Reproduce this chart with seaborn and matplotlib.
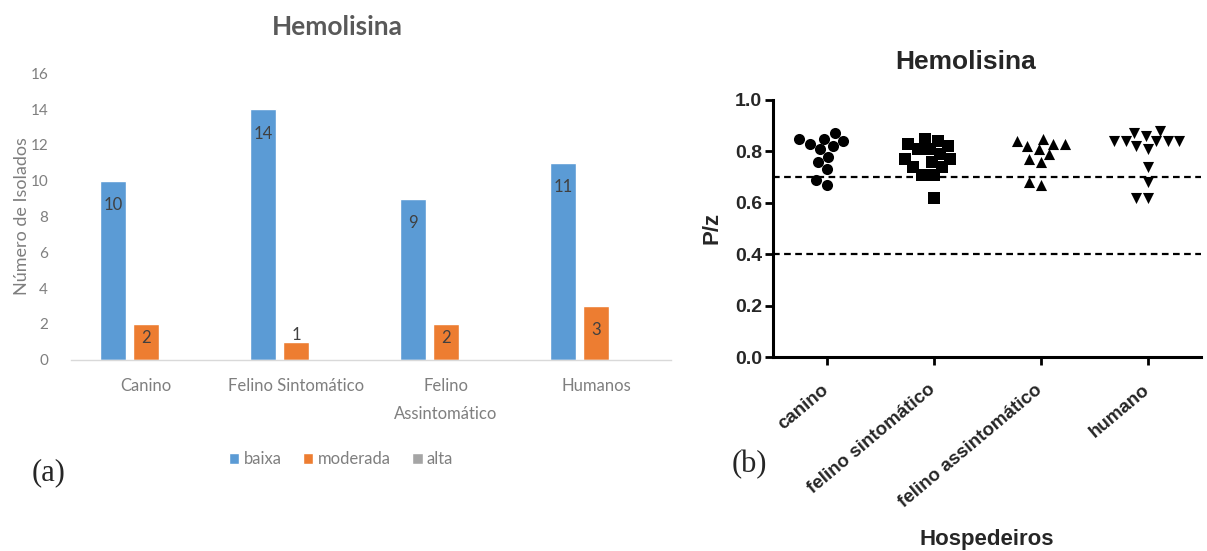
import numpy as np
import pandas as pd
import matplotlib
matplotlib.use("Agg")
import matplotlib.pyplot as plt
import seaborn as sns

# ---------------- Panel (a) data ----------------
cat_a = ["Canino", "Felino Sintomático", "Felino\nAssintomático", "Humanos"]
niveis = ["baixa", "moderada", "alta"]
baixa = [10, 14, 9, 11]
moderada = [2, 1, 2, 3]
alta = [0, 0, 0, 0]
yticks_a = [0, 2, 4, 6, 8, 10, 12, 14, 16]

# ---------------- Panel (b) data ----------------
cat_b = ["canino", "felino sintomático", "felino assintomático", "humano"]
canino = [0.85, 0.87, 0.82, 0.83, 0.85, 0.84, 0.81, 0.78, 0.76, 0.73, 0.67, 0.69]
felino_sint = [0.76, 0.85, 0.81, 0.71, 0.82, 0.74, 0.84, 0.77, 0.71, 0.62,
               0.81, 0.77, 0.79, 0.74, 0.83]
felino_assint = [0.84, 0.81, 0.83, 0.85, 0.82, 0.83, 0.79, 0.77, 0.76, 0.67, 0.68]
humano = [0.84, 0.88, 0.84, 0.84, 0.87, 0.86, 0.84, 0.82, 0.84, 0.81,
          0.74, 0.68, 0.62, 0.62]
limiares = [0.7, 0.4]
yticks_b = [0.0, 0.2, 0.4, 0.6, 0.8, 1.0]

sns.set_style("white")
plt.rcParams["font.family"] = ["Liberation Sans", "DejaVu Sans"]

W, H = 1207, 551
fig = plt.figure(figsize=(W / 100, H / 100), dpi=100)

# ================= Panel (a) =================
ax1 = fig.add_axes([71 / W, 1 - 359.5 / H, (671 - 71) / W, (359.5 - 73.5) / H])
df_a = pd.DataFrame({
    "categoria": cat_a * 3,
    "nivel": np.repeat(niveis, len(cat_a)),
    "n": baixa + moderada + alta,
})
cores_a = ["#5B9BD5", "#ED7D31", "#A5A5A5"]
sns.barplot(data=df_a, x="categoria", y="n", hue="nivel", order=cat_a,
            hue_order=niveis, palette=cores_a, saturation=1, width=0.66,
            gap=0.21, errorbar=None, ax=ax1)

fa = "Lato"
grey_txt = "#7F7F7F"
for cont, nivel in zip(ax1.containers, niveis):
    if nivel == "alta":
        continue
    for p in cont.patches:
        h = p.get_height()
        xc = p.get_x() + p.get_width() / 2
        if h >= 3:
            off = -24.5
        elif h >= 2:
            off = -14
        else:
            off = 7
        ax1.annotate(f"{int(h)}", (xc, h), xytext=(0, off * 0.72),
                     textcoords="offset points", ha="center", va="center",
                     color="#404040", fontsize=12, family=fa)

ax1.set_ylim(0, 16)
ax1.set_xlim(-0.5, 3.5)
ax1.set_yticks(yticks_a)
ax1.set_yticklabels([str(v) for v in yticks_a], family=fa, fontsize=11, color=grey_txt)
ax1.set_xticks(range(len(cat_a)))
ax1.set_xticklabels(cat_a, family=fa, fontsize=12, color=grey_txt)
for t in ax1.get_xticklabels():
    t.set_linespacing(1.95)
ax1.tick_params(axis="y", length=0, pad=16.5)
ax1.tick_params(axis="x", length=0, pad=13)
for s in ["top", "right", "left"]:
    ax1.spines[s].set_visible(False)
ax1.spines["bottom"].set_color("#D9D9D9")
ax1.spines["bottom"].set_linewidth(1.0)
ax1.set_xlabel("")
ax1.set_ylabel("Número de Isolados", family=fa, fontsize=13, color=grey_txt)
ax1.yaxis.set_label_coords(-0.068, 0.5)

sns.move_legend(ax1, "center", bbox_to_anchor=(341 / W, 1 - 459 / H),
                bbox_transform=fig.transFigure, ncol=3, frameon=False,
                title=None, handlelength=0.62, handleheight=0.62,
                handletextpad=0.25, columnspacing=1.3,
                prop={"family": fa, "size": 12})
for t in ax1.get_legend().get_texts():
    t.set_color(grey_txt)

fig.text(337 / W, 1 - 27 / H, "Hemolisina", ha="center", va="center",
         fontsize=19, fontweight="bold", color="#595959", family=fa)
fig.text(49 / W, 1 - 473 / H, "(a)", ha="center", va="center",
         fontsize=22, family="Liberation Serif")

# ================= Panel (b) =================
ax2 = fig.add_axes([773 / W, 1 - 357 / H, (1201 - 773) / W, (357 - 100) / H])
series_b = [canino, felino_sint, felino_assint, humano]
df_b = pd.DataFrame({
    "categoria": np.concatenate([[c] * len(v) for c, v in zip(cat_b, series_b)]),
    "pz": np.concatenate(series_b),
})
marcadores = ["o", "s", "^", "v"]
for c, m in zip(cat_b, marcadores):
    sns.swarmplot(data=df_b[df_b["categoria"] == c], x="categoria", y="pz",
                  order=cat_b, marker=m, color="black", size=8,
                  linewidth=0, ax=ax2, zorder=3)

for v in limiares:
    ax2.axhline(v, color="black", lw=1.6, linestyle=(0, (3, 2)), zorder=1)

ax2.set_ylim(0, 1.0)
ax2.set_xlim(-0.5, 3.5)
ax2.set_yticks(yticks_b)
ax2.set_yticklabels([f"{v:.1f}" for v in yticks_b], fontsize=14, fontweight="bold")
ax2.set_xticks(range(len(cat_b)))
ax2.set_xticklabels(cat_b, rotation=40, ha="right", va="center",
                    rotation_mode="anchor", fontsize=13.5, fontweight="bold")
ax2.tick_params(axis="both", direction="out", length=6, width=2,
                color="black", bottom=True, left=True)
ax2.tick_params(axis="y", pad=2)
ax2.tick_params(axis="x", pad=16)
for s in ["top", "right"]:
    ax2.spines[s].set_visible(False)
for s in ["left", "bottom"]:
    ax2.spines[s].set_linewidth(2.2)
    ax2.spines[s].set_color("black")
ax2.set_ylabel("P/z", fontsize=16, fontweight="bold")
ax2.yaxis.set_label_coords(-0.119, 0.5)
ax2.set_xlabel("Hospedeiros", fontsize=16, fontweight="bold")
ax2.xaxis.set_label_coords(0.5, -0.67)

fig.text(966 / W, 1 - 62 / H, "Hemolisina", ha="center", va="center",
         fontsize=19, fontweight="bold")
fig.text(749 / W, 1 - 465 / H, "(b)", ha="center", va="center",
         fontsize=22, family="Liberation Serif")

fig.savefig("out.png", dpi=100)
